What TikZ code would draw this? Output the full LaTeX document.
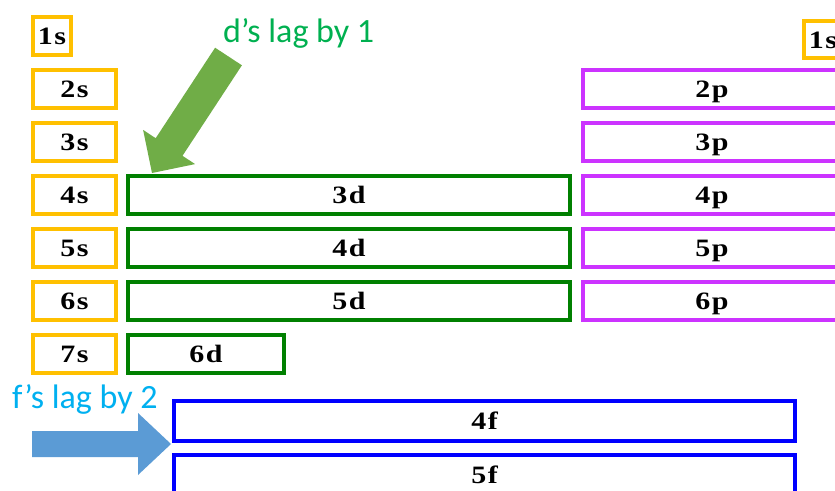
\documentclass[tikz,border=0pt]{standalone}
\usepackage{fontspec}
\newfontfamily\orbfont{Liberation Serif}[FakeStretch=1.2]
\newfontfamily\calfont{Carlito}
\definecolor{syellow}{RGB}{255,192,0}
\definecolor{dgreen}{RGB}{0,128,0}
\definecolor{pmagenta}{RGB}{204,51,255}
\definecolor{fblue}{RGB}{0,0,255}
\definecolor{lagtextgreen}{RGB}{0,176,80}
\definecolor{lagtextblue}{RGB}{0,176,240}
\definecolor{arrowgreen}{RGB}{112,173,71}
\definecolor{arrowblue}{RGB}{91,155,213}
\newcommand\orb[2]{#1\kern1.5pt#2}
\tikzset{
  orbital/.style={draw, line width=4pt, inner sep=0pt, fill=white,
    text height=17pt, text depth=0pt,
    font=\orbfont\bfseries\fontsize{25}{25}\selectfont},
  sbox/.style={orbital, draw=syellow, minimum height=38pt},
  dbox/.style={orbital, draw=dgreen, minimum height=38pt},
  pbox/.style={orbital, draw=pmagenta, minimum height=38pt},
  fbox/.style={orbital, draw=fblue, minimum height=40pt},
  lagnote/.style={inner sep=0pt, anchor=base west,
    font=\calfont\fontsize{34}{34}\selectfont},
}
\begin{document}
\begin{tikzpicture}[x=1pt, y=-1pt]
\path[use as bounding box, clip] (0,0) rectangle (835,490);

% s block
\node[sbox, minimum width=38pt] (s1) at (52,35.5) {\orb{1}{s}};
\foreach \n in {2,...,7}{
  \node[sbox, minimum width=83pt] (s\n) at (74.5,{35.5+53*(\n-1)}) {\orb{\n}{s}};
}
\node[sbox, minimum width=38pt, minimum height=37pt] (s1r) at (823,39.5) {\orb{1}{s}};

% p block
\foreach \n in {2,...,6}{
  \node[pbox, minimum width=258pt] (p\n) at (712,{35.5+53*(\n-1)}) {\orb{\n}{p}};
}

% d block
\foreach \n/\r in {3/4,4/5,5/6}{
  \node[dbox, minimum width=442pt] (d\n) at (349,{35.5+53*(\r-1)}) {\orb{\n}{d}};
}
\node[dbox, minimum width=156pt] (d6) at (206,353.5) {\orb{6}{d}};

% f block
\node[fbox, minimum width=621pt] (f4) at (484.5,421) {\orb{4}{f}};
\node[fbox, minimum width=621pt] (f5) at (484.5,475) {\orb{5}{f}};

% notes
\node[lagnote, text=lagtextgreen] (dnote) at (223,42) {d’s lag by 1};
\node[lagnote, text=lagtextblue] (fnote) at (12,408) {f’s lag by 2};

% block arrows
\fill[arrowgreen] (215.1,47.7) -- (241.9,65.3) -- (182.5,155.8) -- (195.1,164.1)
  -- (152,173) -- (143.1,129.9) -- (155.7,138.2) -- cycle;
\fill[arrowblue] (32,431) -- (138,431) -- (138,413) -- (171,444)
  -- (138,475) -- (138,457) -- (32,457) -- cycle;
\end{tikzpicture}
\end{document}
